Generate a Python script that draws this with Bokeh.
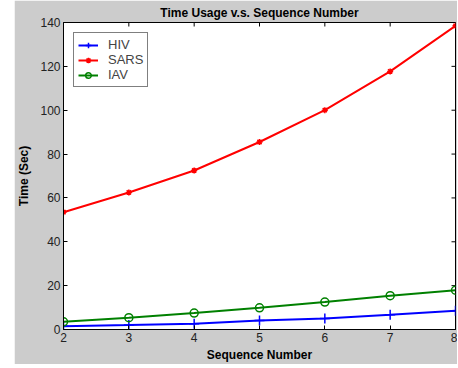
import math
from bokeh.plotting import figure
from bokeh.models import FixedTicker, Range1d, Legend, LegendItem
from bokeh.embed import file_html
from bokeh.resources import INLINE

seq = [2, 3, 4, 5, 6, 7, 8]
hiv = [1.5, 2.0, 2.6, 4.1, 5.0, 6.7, 8.5]
sars = [53.5, 62.5, 72.5, 85.5, 100.0, 117.7, 138.5]
iav = [3.5, 5.4, 7.5, 9.9, 12.5, 15.4, 17.9]
x_ticks = [2, 3, 4, 5, 6, 7, 8]
y_ticks = [0, 20, 40, 60, 80, 100, 120, 140]

FONT = "Liberation Sans"
BG = "#cccccc"

p = figure(width=443, height=364, output_backend="svg", toolbar_location=None,
           x_range=Range1d(x_ticks[0], x_ticks[-1]), y_range=Range1d(y_ticks[0], y_ticks[-1]),
           title="Time Usage v.s. Sequence Number",
           min_border_left=47, min_border_right=2, min_border_top=22, min_border_bottom=32)
p.margin = (0, 0, 0, 14)
p.background_fill_color = "white"
p.border_fill_color = BG
p.outline_line_color = "black"
p.outline_line_width = 1
p.grid.visible = False

p.title.align = "center"
p.title.text_font = FONT
p.title.text_font_size = "12px"
p.title.text_font_style = "bold"
p.title.text_color = "black"
p.title.standoff = 5

for ax, ticks in ((p.xaxis[0], x_ticks), (p.yaxis[0], y_ticks)):
    ax.ticker = FixedTicker(ticks=ticks)
    ax.major_tick_in = 4
    ax.major_tick_out = 0
    ax.minor_tick_line_color = None
    ax.major_label_text_font = FONT
    ax.major_label_text_font_size = "12px"
    ax.major_label_text_color = "#222222"
    ax.axis_label_text_font = FONT
    ax.axis_label_text_font_size = "12px"
    ax.axis_label_text_font_style = "bold"
    ax.axis_label_text_color = "black"
    ax.axis_line_color = "black"
    ax.major_tick_line_color = "black"

p.xaxis[0].axis_label = "Sequence Number"
p.yaxis[0].axis_label = "Time (Sec)"
p.xaxis[0].major_label_standoff = 3
p.yaxis[0].major_label_standoff = 3
p.xaxis[0].axis_label_standoff = 3
p.yaxis[0].axis_label_standoff = 6

# tick marks on the top and right edges of the box (clipped to the frame)
n_x, n_y = len(x_ticks), len(y_ticks)
p.scatter(x_ticks, [y_ticks[-1]] * n_x, marker="dash", angle=math.pi / 2, size=8,
          line_color="black", line_width=1)
p.scatter([x_ticks[-1]] * n_y, y_ticks, marker="dash", size=8,
          line_color="black", line_width=1)

r_hiv = p.line(seq, hiv, line_color="#0000ff", line_width=2)
m_hiv = p.scatter(seq, hiv, marker="cross", size=10, line_color="#0000ff", line_width=1.5)
r_sars = p.line(seq, sars, line_color="#ff0000", line_width=2)
m_sars = p.scatter(seq, sars, marker="asterisk", size=6, line_color="#ff0000", line_width=1.5)
r_iav = p.line(seq, iav, line_color="#008000", line_width=2)
m_iav = p.scatter(seq, iav, marker="circle", size=8, line_color="#008000", fill_color=None, line_width=1.5)

legend = Legend(items=[
    LegendItem(label="HIV", renderers=[r_hiv, m_hiv]),
    LegendItem(label="SARS", renderers=[r_sars, m_sars]),
    LegendItem(label="IAV", renderers=[r_iav, m_iav]),
], location="top_left")
legend.border_line_color = "black"
legend.border_line_width = 1
legend.background_fill_color = "white"
legend.background_fill_alpha = 1
legend.label_text_font = FONT
legend.label_text_font_size = "13px"
legend.label_height = 14
legend.glyph_height = 14
legend.glyph_width = 20
legend.label_standoff = 10
legend.spacing = 0
legend.padding = 4
legend.margin = 10
p.add_layout(legend)

open("out.html", "w").write(file_html(p, INLINE))
